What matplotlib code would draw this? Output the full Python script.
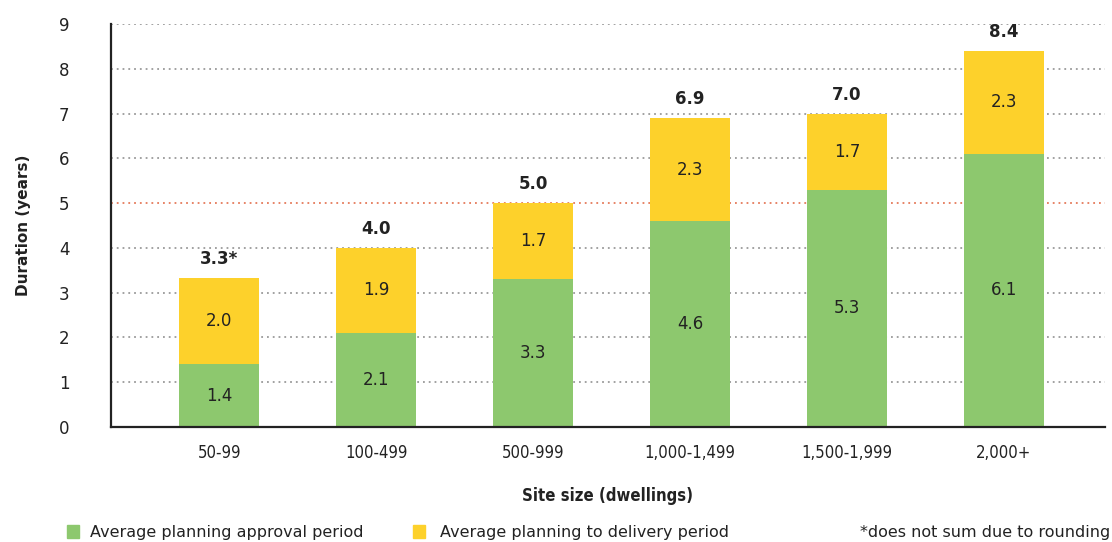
import matplotlib
matplotlib.use("Agg")
import matplotlib.pyplot as plt
from matplotlib.patches import Rectangle

categories = ["50-99", "100-499", "500-999", "1,000-1,499", "1,500-1,999", "2,000+"]
approval = [1.4, 2.1, 3.3, 4.6, 5.3, 6.1]
delivery = [1.93, 1.9, 1.7, 2.3, 1.7, 2.3]
approval_labels = ["1.4", "2.1", "3.3", "4.6", "5.3", "6.1"]
delivery_labels = ["2.0", "1.9", "1.7", "2.3", "1.7", "2.3"]
total_labels = ["3.3*", "4.0", "5.0", "6.9", "7.0", "8.4"]
yticks = [0, 1, 2, 3, 4, 5, 6, 7, 8, 9]

GREEN = "#8DC86E"
YELLOW = "#FDD12B"
RED = "#E57A5A"
GRID = "#9A9A9A"

fig = plt.figure(figsize=(11.12, 5.42), dpi=100)
ax = fig.add_axes([0.0998, 0.2122, 0.8939, 0.7435])

x = list(range(len(categories)))
width = 0.51

for t in yticks[1:]:
    if t == 5:
        ax.axhline(t, color=RED, linestyle=(0, (1, 2.2)), linewidth=1.3, zorder=1)
    else:
        ax.axhline(t, color=GRID, linestyle=(0, (1, 2.2)), linewidth=1.3, zorder=1)

ax.bar(x, approval, width, color=GREEN, zorder=2)
ax.bar(x, delivery, width, bottom=approval, color=YELLOW, zorder=2)

for i in x:
    a = approval[i]
    d = delivery[i]
    ax.text(i, a / 2, approval_labels[i], ha="center", va="center", fontsize=12, color="#222222", zorder=3)
    ax.text(i, a + d / 2, delivery_labels[i], ha="center", va="center", fontsize=12, color="#222222", zorder=3)
    ax.text(i, a + d + 0.22, total_labels[i], ha="center", va="bottom", fontsize=12, fontweight="bold",
            color="#222222", zorder=3, clip_on=False)

ax.set_xlim(-0.69, 5.645)
ax.set_ylim(0, 9)
ax.set_yticks(yticks)
ax.set_yticklabels([str(t) for t in yticks], fontsize=12, color="#222222")
ax.set_xticks(x)
ax.set_xticklabels(categories, fontsize=12, family="DejaVu Sans", fontstretch="condensed", color="#222222")
ax.tick_params(axis="both", length=0)
ax.tick_params(axis="y", pad=30)
ax.tick_params(axis="x", pad=12)

for s in ["top", "right"]:
    ax.spines[s].set_visible(False)
for s in ["left", "bottom"]:
    ax.spines[s].set_linewidth(1.6)
    ax.spines[s].set_color("#222222")

ax.set_ylabel("Duration (years)", fontsize=11, fontweight="bold", color="#222222", labelpad=20)
ax.set_xlabel("Site size (dwellings)", fontsize=12, fontweight="bold", family="DejaVu Sans",
              fontstretch="condensed", color="#222222", labelpad=18)

# legend
fig.patches.append(Rectangle((67 / 1112, 1 - 538 / 542), 12 / 1112, 13 / 542, transform=fig.transFigure,
                             color=GREEN, figure=fig))
fig.text(90 / 1112, 1 - 532 / 542, "Average planning approval period", fontsize=11.5,
         va="center", ha="left", color="#222222")
fig.patches.append(Rectangle((413 / 1112, 1 - 538 / 542), 12 / 1112, 13 / 542, transform=fig.transFigure,
                             color=YELLOW, figure=fig))
fig.text(440 / 1112, 1 - 532 / 542, "Average planning to delivery period", fontsize=11.5,
         va="center", ha="left", color="#222222")
fig.text(1110 / 1112, 1 - 532 / 542, "*does not sum due to rounding", fontsize=11.5,
         va="center", ha="right", color="#222222")

fig.savefig("out.png", dpi=100)
